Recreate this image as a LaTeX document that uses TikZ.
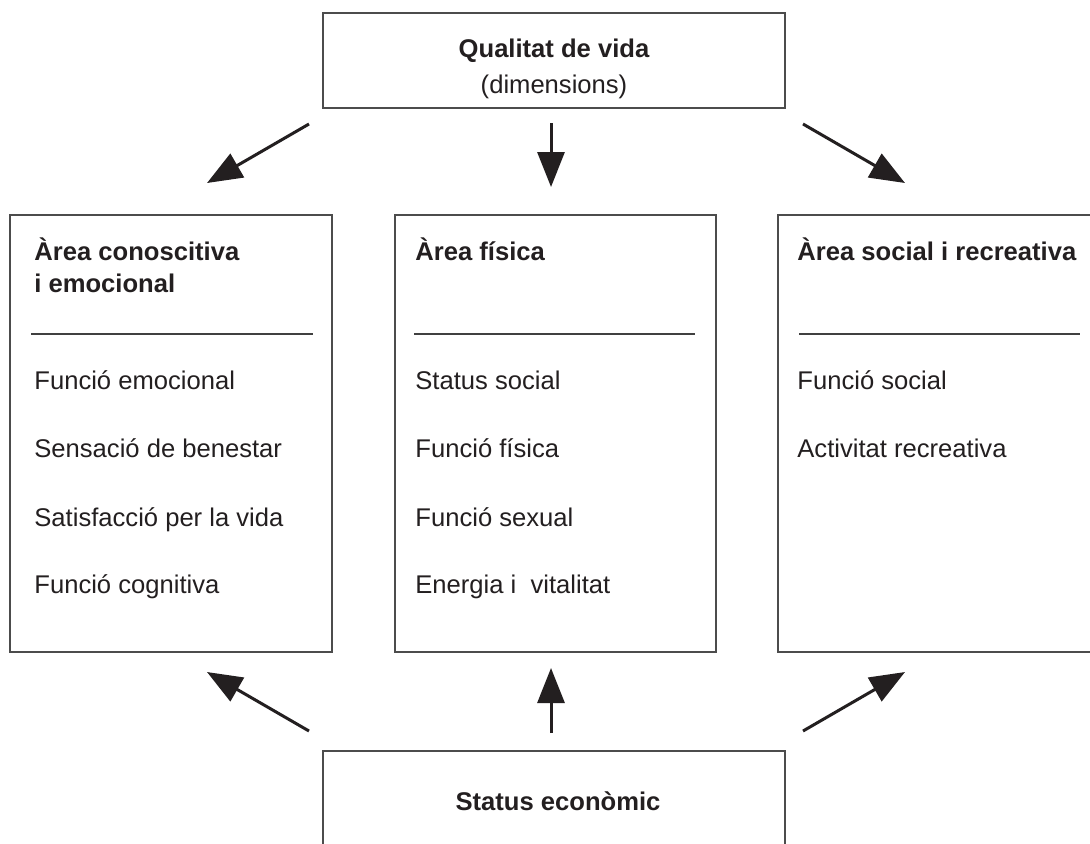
\documentclass[tikz,border=0pt]{standalone}
\usepackage{fontspec}
\setmainfont{Liberation Sans}
\usetikzlibrary{arrows.meta}
\definecolor{tinta}{RGB}{35,31,32}
\tikzstyle{casella} = [rectangle, draw=black!70, line width=0.8pt, inner sep=0pt]
\tikzstyle{testo} = [anchor=base west, inner sep=0pt, text=tinta,
    font=\fontsize{12.8pt}{15pt}\selectfont]
\tikzstyle{titolo} = [testo, font=\fontsize{12.8pt}{15pt}\selectfont\bfseries]
\tikzstyle{freccia} = [line width=1.5pt, tinta,
    -{Triangle[length=17.5pt,width=13.5pt]}]
\tikzstyle{divisore} = [draw=black!75, line width=0.6pt]

\begin{document}
\begin{tikzpicture}[x=0.5pt,y=-0.5pt]
  \useasboundingbox (0,0) rectangle (1090,843);
  \clip (0,0) rectangle (1090,843);
  \fill[white] (0,0) rectangle (1090,843);

  % caselle
  \node [casella, minimum width=231pt, minimum height=47.5pt] (qdv) at (554,60.5) {};
  \node [casella, minimum width=161pt, minimum height=218.5pt] (emo) at (171,433.5) {};
  \node [casella, minimum width=160.5pt, minimum height=218.5pt] (fis) at (555.5,433.5) {};
  \node [casella, minimum width=161pt, minimum height=218.5pt] (soc) at (939,433.5) {};
  \node [casella, minimum width=231pt, minimum height=47.5pt] (eco) at (554,798.5) {};

  % testi in alto e in basso
  \node [titolo, anchor=base] (qdvt) at (554,57) {Qualitat de vida};
  \node [testo, anchor=base] (qdvd) at (554,93) {(dimensions)};
  \node [titolo, anchor=base] (ecot) at (558,810) {Status econòmic};

  % area conoscitiva
  \node [titolo] (emo1) at (34,260) {Àrea conoscitiva};
  \node [titolo] (emo2) at (34,292) {i emocional};
  \draw [divisore] (31,334) -- (313,334);
  \node [testo] (emoa) at (34,389) {Funció emocional};
  \node [testo] (emob) at (34,457) {Sensació de benestar};
  \node [testo] (emoc) at (34,526) {Satisfacció per la vida};
  \node [testo] (emod) at (34,593) {Funció cognitiva};

  % area fisica
  \node [titolo] (fis1) at (415,260) {Àrea física};
  \draw [divisore] (414,334) -- (695,334);
  \node [testo] (fisa) at (415,389) {Status social};
  \node [testo] (fisb) at (415,457) {Funció física};
  \node [testo] (fisc) at (415,526) {Funció sexual};
  \node [testo] (fisd) at (415,593) {Energia i\ \ vitalitat};

  % area social
  \node [titolo] (soc1) at (797,260) {Àrea social i recreativa};
  \draw [divisore] (799,334) -- (1080,334);
  \node [testo] (soca) at (797,389) {Funció social};
  \node [testo] (socb) at (797,457) {Activitat recreativa};

  % frecce
  \coordinate (t1) at (309,124);  \coordinate (h1) at (207,183);
  \coordinate (t2) at (551,123);  \coordinate (h2) at (551,187);
  \coordinate (t3) at (803,124);  \coordinate (h3) at (905,183);
  \coordinate (t4) at (309,731);  \coordinate (h4) at (207,672);
  \coordinate (t5) at (551,733);  \coordinate (h5) at (551,668);
  \coordinate (t6) at (803,731);  \coordinate (h6) at (905,672);
  \draw [freccia] (t1) -- (h1);
  \draw [freccia] (t2) -- (h2);
  \draw [freccia] (t3) -- (h3);
  \draw [freccia] (t4) -- (h4);
  \draw [freccia] (t5) -- (h5);
  \draw [freccia] (t6) -- (h6);
\end{tikzpicture}
\end{document}
